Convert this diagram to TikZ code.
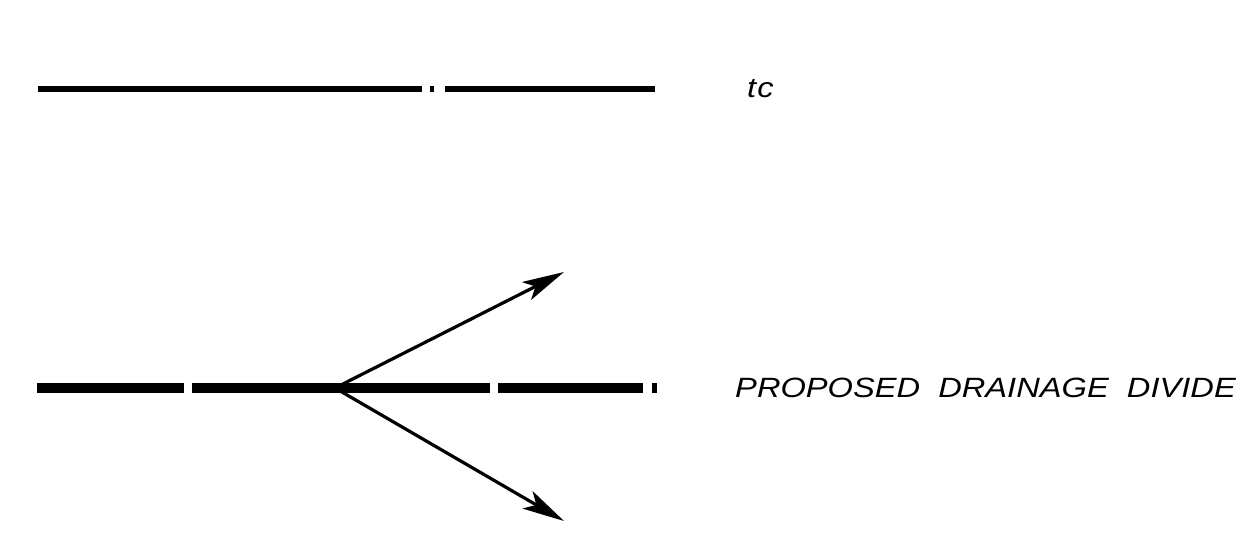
\documentclass[tikz,border=0pt]{standalone}
\usepackage{fontspec}
\setmainfont{Liberation Sans}
\usepackage{tikz}
\usetikzlibrary{arrows.meta}
\usetikzlibrary{positioning}

\begin{document}
\begin{tikzpicture}[
      % Coordinate in pixel dell'immagine (y verso il basso)
      x=1bp,
      y=-1bp,
      line join=miter,
      line cap=butt
  ]

  % Parametri
  \def\ytc{89}    % quota della linea tc
  \def\ydiv{388}  % quota dello spartiacque

  \tikzset{
      tcline/.style={draw=black, line width=5.5bp},
      divideline/.style={draw=black, line width=9.5bp},
      flowarrow/.style={draw=black, line width=3.2bp,
          -{Stealth[length=42bp, width=20bp, inset=10bp]}},
      legendtext/.style={font=\itshape\fontsize{28}{30}\selectfont, anchor=west,
          inner sep=0pt, xscale=1.17}
  }

  % Riquadro
  \useasboundingbox (0,0) rectangle (1245,554);

  % 1. Linea tc
  \draw[tcline] (38,\ytc) -- (422,\ytc);
  \draw[tcline] (430,\ytc) -- (434,\ytc);
  \draw[tcline] (445,\ytc) -- (655,\ytc);
  \node[legendtext] (tc) at (747,\ytc) {t\kern1bp c};

  % 2. Spartiacque proposto
  \draw[divideline] (37,\ydiv) -- (184,\ydiv);
  \draw[divideline] (192,\ydiv) -- (490,\ydiv);
  \draw[divideline] (498,\ydiv) -- (643,\ydiv);
  \draw[divideline] (652,\ydiv) -- (657,\ydiv);

  % 3. Frecce di deflusso
  \coordinate (junction) at (335,\ydiv);
  \coordinate (flowup) at (564,272);
  \coordinate (flowdown) at (564,521);
  \draw[flowarrow] (junction) -- (flowup);
  \draw[flowarrow] (junction) -- (flowdown);

  % Etichetta
  \node[legendtext] (divide) at (735,\ydiv) {PROPOSED\ \ DRAINAGE\ \ DIVIDE};

\end{tikzpicture}
\end{document}
